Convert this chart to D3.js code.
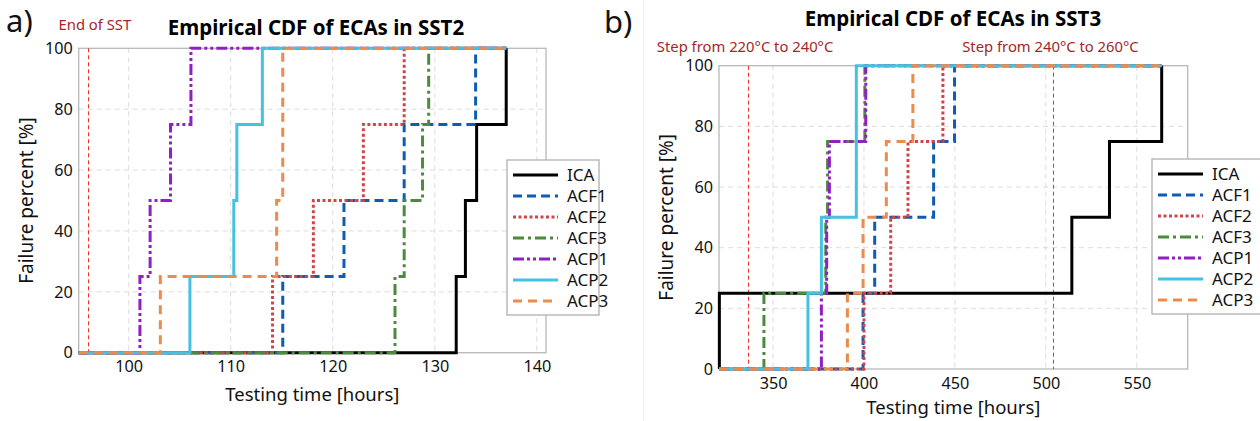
<!DOCTYPE html>
<html>
<head>
<meta charset="utf-8">
<script src="https://cdn.jsdelivr.net/npm/d3@7"></script>
<style>
  html, body { margin: 0; padding: 0; background: #fff; }
  svg { display: block; }
  text { font-family: "Noto Sans", "Open Sans", sans-serif; }
</style>
</head>
<body>
<svg id="chart" width="1260" height="421"></svg>
<script>
// Series names and cumulative failure levels (4 units per group)
const seriesNames = ["ICA", "ACF1", "ACF2", "ACF3", "ACP1", "ACP2", "ACP3"];
const cdfLevels = [25, 50, 75, 100];

// Failure times in SST2 [hours]
const sst2ICA  = [132.1, 133.0, 134.1, 137.0];
const sst2ACF1 = [115.1, 121.1, 127.0, 134.0];
const sst2ACF2 = [114.1, 118.1, 123.0, 127.0];
const sst2ACF3 = [126.1, 127.0, 128.8, 129.4];
const sst2ACP1 = [101.1, 102.1, 104.1, 106.1];
const sst2ACP2 = [106.0, 110.3, 110.6, 113.1];
const sst2ACP3 = [103.1, 114.5, 115.1, 115.1];

// Failure times in SST3 [hours]
const sst3ICA  = [320.5, 514.3, 535.0, 563.7];
const sst3ACF1 = [399.5, 405.9, 438.3, 449.8];
const sst3ACF2 = [400.0, 414.7, 424.2, 443.4];
const sst3ACF3 = [345.0, 379.0, 380.0, 400.5];
const sst3ACP1 = [376.6, 379.5, 381.0, 401.0];
const sst3ACP2 = [369.2, 376.6, 395.8, 395.8];
const sst3ACP3 = [390.9, 399.5, 412.3, 426.9];

// Axis ticks
const sst2XTicks = [100, 110, 120, 130, 140];
const sst3XTicks = [350, 400, 450, 500, 550];
const yTicks = [0, 20, 40, 60, 80, 100];

// Reference events (stress-step boundaries)
const sst2EventTimes = [96.0];
const sst2EventLabels = ["End of SST"];
const sst3EventTimes = [336.3, 504.2];
const sst3EventLabels = ["Step from 220°C to 240°C", "Step from 240°C to 260°C"];

// Line styling per series
const styles = {
  ICA:  { color: "#000000", dash: null },
  ACF1: { color: "#0f5cb4", dash: "9,5" },
  ACF2: { color: "#d0454a", dash: "3,2.5" },
  ACF3: { color: "#4d8a3e", dash: "11,4,3,4" },
  ACP1: { color: "#9020c4", dash: "11,3,3,3,3,3" },
  ACP2: { color: "#45c1e2", dash: null },
  ACP3: { color: "#eb8b4d", dash: "9,6" }
};

const svg = d3.select("#chart");

// faint divider between panels
svg.append("line").attr("x1", 643.5).attr("x2", 643.5).attr("y1", 0).attr("y2", 421)
  .attr("stroke", "#f2f2f2").attr("stroke-width", 1);

function drawPanel(cfg) {
  const g = svg.append("g");
  const x = d3.scaleLinear().domain(cfg.xDomain).range([cfg.left, cfg.right]);
  const y = d3.scaleLinear().domain([0, 100]).range([cfg.bottom, cfg.top]);

  // grid
  g.append("g").selectAll("line").data(cfg.xTicks).join("line")
    .attr("x1", d => x(d)).attr("x2", d => x(d))
    .attr("y1", cfg.top).attr("y2", cfg.bottom)
    .attr("stroke", "#dcdcdc").attr("stroke-dasharray", "5,4").attr("stroke-width", 1);
  g.append("g").selectAll("line").data(yTicks.slice(1, -1)).join("line")
    .attr("x1", cfg.left).attr("x2", cfg.right)
    .attr("y1", d => y(d)).attr("y2", d => y(d))
    .attr("stroke", "#dcdcdc").attr("stroke-dasharray", "5,4").attr("stroke-width", 1);

  // frame
  g.append("rect").attr("x", cfg.left).attr("y", cfg.top)
    .attr("width", cfg.right - cfg.left).attr("height", cfg.bottom - cfg.top)
    .attr("fill", "none").attr("stroke", "#b8b8b8").attr("stroke-width", 1.3);

  // axes (labels only)
  const xAxis = d3.axisBottom(x).tickValues(cfg.xTicks).tickSize(0).tickPadding(8);
  const xa = g.append("g").attr("transform", `translate(0,${cfg.bottom})`).call(xAxis);
  xa.select(".domain").remove();
  xa.selectAll("text").attr("font-size", 16.2).attr("fill", "#111")
    .style("font-family", '"Noto Sans", sans-serif');

  const yAxis = d3.axisLeft(y).tickValues(yTicks).tickSize(0).tickPadding(6);
  const ya = g.append("g").attr("transform", `translate(${cfg.left},0)`).call(yAxis);
  ya.select(".domain").remove();
  ya.selectAll("text").attr("font-size", 16.2).attr("fill", "#111")
    .style("font-family", '"Noto Sans", sans-serif');

  // event markers
  cfg.events.forEach((t, i) => {
    const xe = Math.round(x(t)) + 0.5;
    g.append("line").attr("x1", xe).attr("x2", xe)
      .attr("y1", cfg.top).attr("y2", cfg.bottom)
      .attr("stroke", "#f03030").attr("stroke-width", 1).attr("stroke-dasharray", "4,3");
    g.append("text").attr("x", x(t) + cfg.eventLabelDx).attr("y", cfg.eventLabelY)
      .attr("text-anchor", "middle").attr("font-size", 14.8).attr("fill", "#a3262a")
      .text(cfg.eventLabels[i]);
  });

  // ECDF step curves
  const gMax = d3.max(cfg.series, s => d3.max(s.times));
  const line = d3.line().x(d => x(d[0])).y(d => y(d[1])).curve(d3.curveStepAfter);
  cfg.series.forEach(s => {
    const pts = [[cfg.xDomain[0], 0]];
    s.times.forEach((t, i) => pts.push([t, cdfLevels[i]]));
    pts.push([gMax, 100]);
    const st = styles[s.name];
    g.append("path").datum(pts).attr("d", line)
      .attr("fill", "none").attr("stroke", st.color).attr("stroke-width", 3)
      .attr("stroke-dasharray", st.dash).attr("stroke-linejoin", "miter");
  });

  // title & axis titles
  g.append("text").attr("x", cfg.titleX).attr("y", cfg.titleY)
    .attr("text-anchor", "middle").attr("font-size", 20.5).attr("font-weight", "bold")
    .attr("fill", "#000").text(cfg.title);
  g.append("text").attr("x", (cfg.left + cfg.right) / 2).attr("y", cfg.xTitleY)
    .attr("text-anchor", "middle").attr("font-size", 18.5).attr("fill", "#111")
    .text("Testing time [hours]");
  g.append("text")
    .attr("transform", `translate(${cfg.left - 46},${(cfg.top + cfg.bottom) / 2}) rotate(-90)`)
    .attr("text-anchor", "middle").attr("font-size", 19).attr("fill", "#111")
    .text("Failure percent [%]");

  // panel tag
  g.append("text").attr("x", cfg.tagX).attr("y", cfg.tagY)
    .attr("font-size", 31).attr("fill", "#111").text(cfg.tag);

  // legend
  const lg = g.append("g").attr("transform", `translate(${cfg.legendX},${cfg.legendY})`);
  lg.append("rect").attr("x", 0).attr("y", 0).attr("width", cfg.legendW).attr("height", 155)
    .attr("fill", "#fff").attr("stroke", "#b0b0b0").attr("stroke-width", 1.3);
  seriesNames.forEach((n, i) => {
    const yy = 15 + i * 21;
    const st = styles[n];
    lg.append("line").attr("x1", 6).attr("x2", 51).attr("y1", yy).attr("y2", yy)
      .attr("stroke", st.color).attr("stroke-width", 3).attr("stroke-dasharray", st.dash);
    lg.append("text").attr("x", 60).attr("y", yy).attr("dy", "0.35em")
      .attr("font-size", 17).attr("fill", "#111").text(n);
  });
}

function buildSeries(lists) {
  return seriesNames.map((n, i) => ({ name: n, times: lists[i] }));
}

drawPanel({
  left: 78.7, right: 546, top: 48.3, bottom: 352.7,
  xDomain: [95.1, 140.9], xTicks: sst2XTicks, xTitleY: 401,
  series: buildSeries([sst2ICA, sst2ACF1, sst2ACF2, sst2ACF3, sst2ACP1, sst2ACP2, sst2ACP3]),
  events: sst2EventTimes, eventLabels: sst2EventLabels, eventLabelY: 30, eventLabelDx: 7,
  title: "Empirical CDF of ECAs in SST2", titleX: 316, titleY: 35,
  tag: "a)", tagX: 6, tagY: 32,
  legendX: 507, legendY: 160, legendW: 92
});

drawPanel({
  left: 719, right: 1187.7, top: 65.7, bottom: 369,
  xDomain: [320.3, 578], xTicks: sst3XTicks, xTitleY: 414,
  series: buildSeries([sst3ICA, sst3ACF1, sst3ACF2, sst3ACF3, sst3ACP1, sst3ACP2, sst3ACP3]),
  events: sst3EventTimes, eventLabels: sst3EventLabels, eventLabelY: 52, eventLabelDx: -3,
  title: "Empirical CDF of ECAs in SST3", titleX: 953, titleY: 26,
  tag: "b)", tagX: 604, tagY: 33,
  legendX: 1152, legendY: 159, legendW: 110
});
</script>
</body>
</html>
